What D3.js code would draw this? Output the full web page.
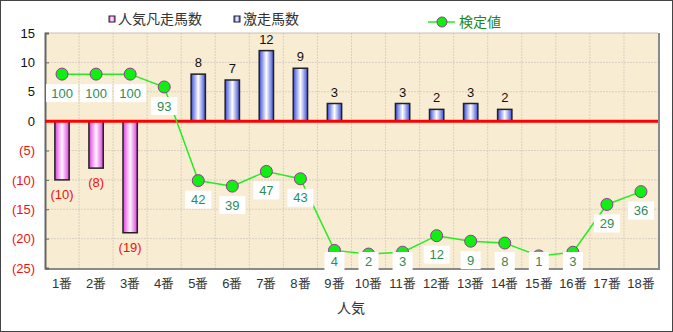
<!DOCTYPE html>
<html>
<head>
<meta charset="utf-8">
<script src="https://cdn.jsdelivr.net/npm/d3@7"></script>
<style>
  body { margin: 0; background: #fff; }
  svg { display: block; font-family: "Liberation Sans", "Noto Sans CJK JP", sans-serif; }
</style>
</head>
<body>
<svg width="673" height="332"></svg>
<script>
// **** data ****
const categories = ['1番','2番','3番','4番','5番','6番','7番','8番','9番','10番','11番','12番','13番','14番','15番','16番','17番','18番'];
const ninkiBonsou = [10, 8, 19, null, null, null, null, null, null, null, null, null, null, null, null, null, null, null];
const gekisou = [null, null, null, null, 8, 7, 12, 9, 3, null, 3, 2, 3, 2, null, null, null, null];
const kenteichi = [100, 100, 100, 93, 42, 39, 47, 43, 4, 2, 3, 12, 9, 8, 1, 3, 29, 36];
const yTicks = [15, 10, 5, 0, -5, -10, -15, -20, -25];

// **** scales ****
const svg = d3.select('svg');
const plotL = 45, plotR = 658, plotT = 33, plotB = 268;

const xScale = d3.scaleBand().domain(categories).range([plotL, plotR]).padding(0);
const yScale = d3.scaleLinear().domain([-25, 15]).range([plotB, plotT]);
// the line sits on a hidden second axis
const y2Scale = d3.scaleLinear().domain([0, 100]).range([yScale(-23.25), yScale(8)]);

const defs = svg.append('defs');
function hGrad(id, edge, mid) {
    const g = defs.append('linearGradient').attr('id', id).attr('x1', '0%').attr('x2', '100%');
    g.append('stop').attr('offset', '0%').attr('stop-color', edge);
    g.append('stop').attr('offset', '50%').attr('stop-color', mid);
    g.append('stop').attr('offset', '100%').attr('stop-color', edge);
}
hGrad('blueGrad', '#3c4fd6', '#ffffff');
hGrad('pinkGrad', '#de3ede', '#fff4ff');

// outer border
svg.append('rect').attr('x', 0.5).attr('y', 0.5).attr('width', 672).attr('height', 331)
    .style('fill', '#fff').style('stroke', '#444').style('stroke-width', 1);

// plot background
svg.append('rect').attr('x', plotL).attr('y', plotT).attr('width', plotR - plotL).attr('height', plotB - plotT)
    .style('fill', '#f8ecd3');

// grid
svg.append('g').selectAll('line').data(categories.slice(1))
    .enter().append('line')
    .attr('x1', d => xScale(d)).attr('x2', d => xScale(d))
    .attr('y1', plotT).attr('y2', plotB)
    .style('stroke', '#d9d0c0').style('stroke-dasharray', '2,1');
svg.append('g').selectAll('line').data(yTicks.slice(1, -1))
    .enter().append('line')
    .attr('x1', plotL).attr('x2', plotR)
    .attr('y1', d => yScale(d)).attr('y2', d => yScale(d))
    .style('stroke', '#d9d0c0').style('stroke-dasharray', '2,1');

// frame: shadowed right and bottom edges
svg.append('line').attr('x1', plotR + 1).attr('x2', plotR + 1).attr('y1', plotT).attr('y2', plotB + 2)
    .style('stroke', '#8a8a8a').style('stroke-width', 2);
svg.append('line').attr('x1', plotL).attr('x2', plotR + 2).attr('y1', plotB + 1).attr('y2', plotB + 1)
    .style('stroke', '#8a8a8a').style('stroke-width', 2);
svg.append('line').attr('x1', plotL).attr('x2', plotR).attr('y1', plotT).attr('y2', plotT)
    .style('stroke', '#c8c0b0');

// y axis
const yAxis = svg.append('g').attr('transform', `translate(${plotL},0)`)
    .call(d3.axisLeft(yScale).tickValues(yTicks).tickSize(-4).tickPadding(10)
        .tickFormat(d => d < 0 ? `(${-d})` : d));
yAxis.select('.domain').style('stroke', '#666').style('stroke-width', 2);
yAxis.selectAll('.tick line').style('stroke', '#666');
yAxis.selectAll('.tick text')
    .style('font-size', '13px')
    .style('fill', d => d < 0 ? '#ee1111' : '#111');

// x axis labels
const xAxis = svg.append('g').attr('transform', `translate(0,${plotB})`)
    .call(d3.axisBottom(xScale).tickSize(0).tickPadding(11));
xAxis.select('.domain').remove();
xAxis.selectAll('.tick text').style('font-size', '13px').style('fill', '#333');

svg.append('text').attr('x', 351).attr('y', 313).attr('text-anchor', 'middle')
    .style('font-size', '14px').style('fill', '#333').text('人気');

// bars
const barW = xScale.bandwidth() * 0.42;
categories.forEach((c, i) => {
    const cx = xScale(c) + xScale.bandwidth() / 2;
    if (ninkiBonsou[i] != null) {
        const v = -ninkiBonsou[i];
        svg.append('rect')
            .attr('x', cx - barW / 2).attr('y', yScale(0))
            .attr('width', barW).attr('height', yScale(v) - yScale(0))
            .style('fill', 'url(#pinkGrad)').style('stroke', '#222').style('stroke-width', 1.5);
        svg.append('text').attr('x', cx).attr('y', yScale(v) + 19).attr('text-anchor', 'middle')
            .style('font-size', '13px').style('fill', '#ee1111').text(`(${ninkiBonsou[i]})`);
    }
    if (gekisou[i] != null) {
        const v = gekisou[i];
        svg.append('rect')
            .attr('x', cx - barW / 2).attr('y', yScale(v))
            .attr('width', barW).attr('height', yScale(0) - yScale(v))
            .style('fill', 'url(#blueGrad)').style('stroke', '#222').style('stroke-width', 1.5);
        svg.append('text').attr('x', cx).attr('y', yScale(v) - 7).attr('text-anchor', 'middle')
            .style('font-size', '13px').style('fill', '#111').text(v);
    }
});

// zero line
svg.append('line').attr('x1', plotL).attr('x2', plotR).attr('y1', yScale(0)).attr('y2', yScale(0))
    .style('stroke', '#ff0000').style('stroke-width', 3);

// line series
const pts = kenteichi.map((v, i) => ({ v, x: xScale(categories[i]) + xScale.bandwidth() / 2, y: y2Scale(v) }));
svg.append('path').datum(pts)
    .attr('d', d3.line().x(d => d.x).y(d => d.y))
    .style('fill', 'none').style('stroke', '#22ee22').style('stroke-width', 1.5);
svg.append('g').selectAll('circle').data(pts).enter().append('circle')
    .attr('cx', d => d.x).attr('cy', d => d.y).attr('r', 6)
    .style('fill', '#11ee11').style('stroke', '#993399').style('stroke-width', 1);

const lbl = svg.append('g').selectAll('g').data(pts).enter().append('g')
    .attr('transform', d => `translate(${d.x},${Math.min(d.y + 19, 261)})`);
lbl.append('rect')
    .attr('x', d => String(d.v).length > 2 ? -16 : (String(d.v).length > 1 ? -13 : -10))
    .attr('width', d => String(d.v).length > 2 ? 32 : (String(d.v).length > 1 ? 26 : 20))
    .attr('y', -9).attr('height', 18)
    .style('fill', '#fff');
lbl.append('text').attr('text-anchor', 'middle').attr('dy', '0.36em')
    .style('font-size', '13px').style('fill', '#2e8b57').text(d => d.v);

// legend
const lg1 = svg.append('g').attr('transform', 'translate(112,19)');
lg1.append('rect').attr('x', -3).attr('y', -3).attr('width', 6).attr('height', 6)
    .style('fill', 'url(#pinkGrad)').style('stroke', '#222');
lg1.append('text').attr('x', 6).attr('dy', '0.36em').style('font-size', '14px').style('fill', '#333').text('人気凡走馬数');

const lg2 = svg.append('g').attr('transform', 'translate(237,19)');
lg2.append('rect').attr('x', -3).attr('y', -3).attr('width', 6).attr('height', 6)
    .style('fill', 'url(#blueGrad)').style('stroke', '#222');
lg2.append('text').attr('x', 6).attr('dy', '0.36em').style('font-size', '14px').style('fill', '#333').text('激走馬数');

const lg3 = svg.append('g').attr('transform', 'translate(442,22)');
lg3.append('line').attr('x1', -14).attr('x2', 13).style('stroke', '#22ee22').style('stroke-width', 1.5);
lg3.append('circle').attr('r', 5).style('fill', '#11ee11').style('stroke', '#993399');
lg3.append('text').attr('x', 17).attr('dy', '0.36em').style('font-size', '14px').style('fill', '#1a8a1a').text('検定値');
</script>
</body>
</html>
